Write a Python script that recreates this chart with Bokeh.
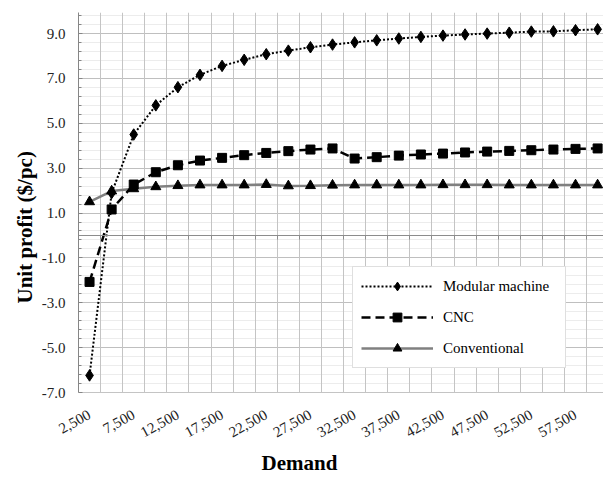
import numpy as np
from bokeh.plotting import figure
from bokeh.models import (FixedTicker, LinearAxis, Range1d, Legend, LegendItem,
                          NumeralTickFormatter, Grid, CustomJSTickFormatter, Title)
from bokeh.embed import file_html
from bokeh.resources import INLINE

# ---- data ----
demand = [2500, 5000, 7500, 10000, 12500, 15000, 17500, 20000, 22500, 25000,
          27500, 30000, 32500, 35000, 37500, 40000, 42500, 45000, 47500, 50000,
          52500, 55000, 57500, 60000]
modular = [-6.24, 1.89, 4.50, 5.80, 6.61, 7.16, 7.56, 7.83, 8.08, 8.24,
           8.39, 8.51, 8.61, 8.70, 8.78, 8.85, 8.91, 8.96, 9.00, 9.04,
           9.09, 9.10, 9.15, 9.19]
cnc = [-2.07, 1.16, 2.27, 2.82, 3.13, 3.34, 3.46, 3.58, 3.68, 3.76,
       3.83, 3.88, 3.43, 3.49, 3.56, 3.61, 3.65, 3.70, 3.74, 3.77,
       3.80, 3.83, 3.86, 3.88]
conventional = [1.50, 1.98, 2.08, 2.17, 2.22, 2.25, 2.25, 2.25, 2.27, 2.21,
                2.22, 2.24, 2.25, 2.25, 2.25, 2.25, 2.26, 2.26, 2.26, 2.25,
                2.25, 2.25, 2.25, 2.25]
series_names = ["Modular machine", "CNC", "Conventional"]
x_labels = demand[::2]
y_major = [-7, -5, -3, -1, 1, 3, 5, 7, 9]
x_title = "Demand"
y_title = "Unit profit ($/pc)"

step = demand[1] - demand[0]
boundaries = [d - step / 2 for d in demand] + [demand[-1] + step / 2]
y_minor = [round(v, 1) for v in np.arange(-7, 9.95, 0.4) if not any(abs(v - m) < 1e-6 for m in y_major)]

SERIF = "Liberation Serif"

p = figure(width=603, height=479, output_backend="svg", toolbar_location=None,
           x_range=Range1d(demand[0] - step / 2, 60667), y_range=Range1d(-7, 9.94),
           x_axis_type=None, y_axis_type=None,
           min_border_top=12, min_border_left=78, min_border_right=0, min_border_bottom=87)
p.outline_line_color = None
p.background_fill_color = "white"
p.border_fill_color = "white"

# grids
p.add_layout(Grid(dimension=1, ticker=FixedTicker(ticks=y_major, minor_ticks=y_minor),
                  grid_line_color="#bfbfbf", grid_line_width=1,
                  minor_grid_line_color="#ececec", minor_grid_line_width=1))
p.add_layout(Grid(dimension=0, ticker=FixedTicker(ticks=boundaries),
                  grid_line_color="#c4c4c4", grid_line_width=1))

# y axis
yaxis = LinearAxis(ticker=FixedTicker(ticks=y_major, minor_ticks=y_minor),
                   formatter=NumeralTickFormatter(format="0.0"),
                   axis_line_color="#868686",
                   major_tick_in=4, major_tick_out=0, minor_tick_in=3, minor_tick_out=0,
                   major_tick_line_color="#868686", minor_tick_line_color="#868686",
                   major_label_standoff=13,
                   major_label_text_font=SERIF, major_label_text_font_size="15px",
                   major_label_text_color="#222222")
p.add_layout(yaxis, "left")
p.add_layout(Title(text=y_title, align="left", offset=89, standoff=0, vertical_align="top",
                   text_font=SERIF, text_font_style="bold", text_font_size="21px",
                   text_color="black"), "left")

# bottom axis with labels
xaxis = LinearAxis(ticker=FixedTicker(ticks=x_labels),
                   formatter=NumeralTickFormatter(format="0,0"),
                   axis_line_color="#c4c4c4",
                   major_tick_in=0, major_tick_out=0, minor_tick_in=0, minor_tick_out=0,
                   major_label_orientation=0.5, major_label_standoff=21,
                   major_label_text_font=SERIF, major_label_text_font_size="15px",
                   major_label_text_color="#222222")
p.add_layout(xaxis, "below")

# horizontal axis crossing at zero
zaxis = LinearAxis(fixed_location=0, ticker=FixedTicker(ticks=boundaries),
                   formatter=CustomJSTickFormatter(code="return ''"),
                   axis_line_color="#8c8c8c", axis_line_width=1,
                   major_tick_in=0, major_tick_out=4, minor_tick_in=0, minor_tick_out=0,
                   major_tick_line_color="#8c8c8c", major_label_standoff=0,
                   major_label_text_font_size="1px")
p.add_layout(zaxis, "below")

p.add_layout(Title(text=x_title, align="left", offset=183, standoff=6,
                   text_font=SERIF, text_font_style="bold", text_font_size="21px",
                   text_color="black"), "below")

# series
l3 = p.line(demand, conventional, line_color="#808080", line_width=2.5)
s3 = p.scatter(demand, conventional, marker="triangle", size=10,
               fill_color="black", line_color="black")
l2 = p.line(demand, cnc, line_color="black", line_width=2.5, line_dash="9 5")
s2 = p.scatter(demand, cnc, marker="square", size=9,
               fill_color="black", line_color="black")
l1 = p.line(demand, modular, line_color="black", line_width=2, line_dash="2 2")
s1 = p.scatter(demand, modular, marker="diamond", size=11.5,
               fill_color="black", line_color="black")

legend = Legend(items=[LegendItem(label=series_names[0], renderers=[l1, s1]),
                       LegendItem(label=series_names[1], renderers=[l2, s2]),
                       LegendItem(label=series_names[2], renderers=[l3, s3])],
                location=(274, 24), margin=0, padding=8, spacing=9,
                glyph_width=72, glyph_height=22, label_height=22, label_width=114,
                label_standoff=10,
                label_text_font=SERIF, label_text_font_size="15px", label_text_color="black",
                border_line_color="#bfbfbf", border_line_width=1,
                background_fill_color="white", background_fill_alpha=1)
p.add_layout(legend)

open("out.html", "w").write(file_html(p, INLINE))
